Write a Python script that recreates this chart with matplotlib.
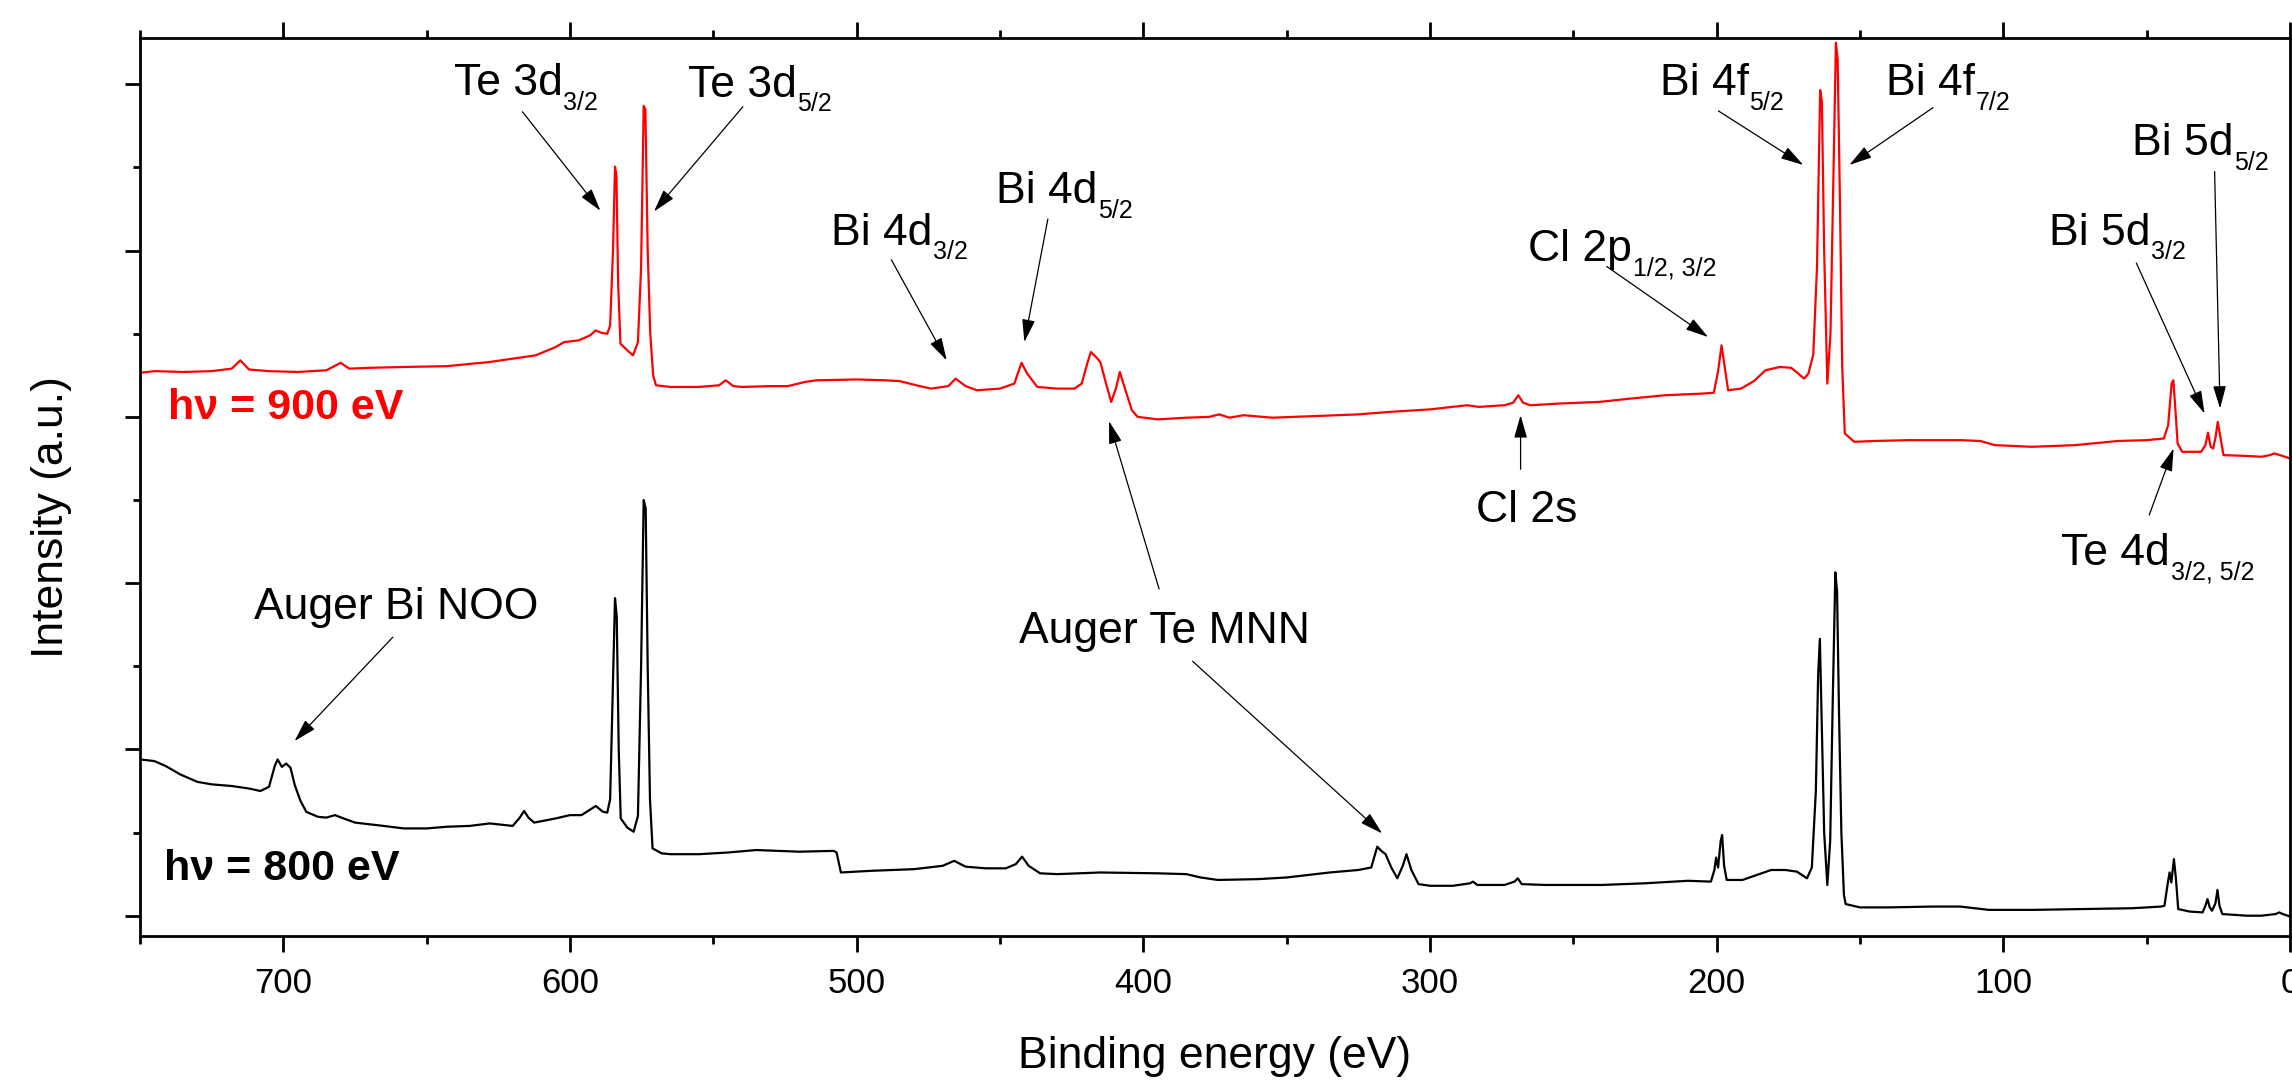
import matplotlib
matplotlib.use('Agg')
import matplotlib.pyplot as plt
from matplotlib.ticker import MultipleLocator

plt.rcParams['font.family'] = ['Liberation Sans', 'DejaVu Sans']

# ---------------- data (arbitrary units) ----------------
energy_900 = [750, 745, 735, 725, 718, 715, 712, 705, 695, 685, 680, 677, 670, 658, 643,
              628, 618, 612, 605, 602, 597, 593, 591, 589, 587, 586, 585.0, 584.3, 583.8,
              583.2, 582.4, 580, 578, 576.3, 575.2, 574.3, 573.7, 572.9, 572.0, 571, 570,
              565, 555, 548, 545.7, 543, 540, 530, 524, 518, 514, 500, 490, 485, 478, 474,
              468, 465.5, 462, 458, 450, 445, 442.5, 440.5, 437, 430, 424, 421.5, 419.5,
              418.3, 416.5, 415, 413, 411.2, 409.5, 408.2, 406.5, 404, 402, 395, 385, 377,
              373.5, 370, 365, 355, 340, 325, 314, 300, 287, 283, 274, 271, 269.2, 267.5,
              265, 255, 241, 230, 218, 205, 201, 199.5, 198.3, 197.2, 196, 191.5, 187, 183,
              178, 174, 171.5, 169.5, 168, 166.3, 165.0, 163.9, 163.3, 162.5, 161.4, 160.3,
              159.2, 158.4, 157.8, 157.0, 156.2, 155.3, 152, 145, 133, 115, 108, 103, 90,
              75, 60, 50, 44, 42.5, 41.3, 40.7, 40.0, 39.2, 37.6, 31, 29.5, 28.6, 27.7, 26.8,
              26, 25.2, 24.5, 23.2, 15, 10, 7, 5.5, 3.5, 0]
intensity_900 = [6.53, 6.55, 6.54, 6.55, 6.58, 6.68, 6.57, 6.55, 6.54, 6.56, 6.65, 6.58, 6.59,
                 6.60, 6.61, 6.66, 6.71, 6.74, 6.84, 6.90, 6.92, 6.98, 7.04, 7.01, 7.00, 7.10,
                 8.00, 9.01, 8.90, 7.60, 6.88, 6.80, 6.74, 6.90, 7.80, 9.74, 9.70, 8.00, 7.00,
                 6.50, 6.38, 6.36, 6.36, 6.38, 6.44, 6.37, 6.36, 6.37, 6.37, 6.42, 6.44, 6.45,
                 6.44, 6.43, 6.37, 6.34, 6.37, 6.46, 6.37, 6.32, 6.34, 6.40, 6.65, 6.52, 6.36,
                 6.34, 6.34, 6.40, 6.65, 6.78, 6.72, 6.66, 6.40, 6.18, 6.35, 6.54, 6.35, 6.08,
                 6.00, 5.97, 5.99, 6.00, 6.03, 5.99, 6.02, 5.99, 6.01, 6.03, 6.06, 6.09, 6.14,
                 6.12, 6.14, 6.17, 6.26, 6.17, 6.14, 6.16, 6.18, 6.22, 6.26, 6.28, 6.29, 6.55,
                 6.86, 6.60, 6.32, 6.34, 6.43, 6.56, 6.60, 6.59, 6.52, 6.46, 6.52, 6.75, 7.80,
                 9.93, 9.80, 8.00, 6.40, 7.00, 9.00, 10.50, 10.30, 8.60, 6.60, 5.80, 5.70, 5.71,
                 5.72, 5.72, 5.71, 5.66, 5.64, 5.66, 5.71, 5.72, 5.74, 5.90, 6.40, 6.44, 6.10,
                 5.68, 5.58, 5.58, 5.66, 5.81, 5.64, 5.62, 5.75, 5.94, 5.80, 5.54, 5.53, 5.52,
                 5.54, 5.56, 5.54, 5.50]

energy_800 = [750, 745, 741, 736, 730, 725, 718, 712, 708, 705, 703, 702, 700.5, 699, 697.5,
              696, 694, 692, 688, 685, 682, 679, 675, 665, 658, 650, 643, 635, 628, 620,
              617.5, 616, 614.5, 612.5, 605, 600, 596, 591, 588.5, 587, 586, 585.0, 584.3,
              583.7, 583.0, 582.3, 580, 577.8, 576.3, 575.2, 574.3, 573.6, 572.9, 572.1,
              571.2, 568, 565, 555, 545, 535, 520, 508, 507, 505.5, 495, 480, 470, 466, 462,
              455, 448, 444.5, 442.3, 440, 436, 430, 415, 395, 385, 380, 374, 360, 350, 335,
              325, 320.5, 319, 318.4, 317, 315.5, 313.5, 311.4, 309.5, 308.2, 306.5, 304, 300,
              292, 286, 285, 283.5, 274, 270.5, 269.4, 268, 260, 240, 225, 210, 202, 200.8,
              200.2, 199.5, 198.6, 198.1, 197.4, 196.5, 191, 186, 181, 176, 172, 168.5, 166.8,
              165.4, 164.6, 164.0, 163.4, 162.5, 161.4, 160.4, 159.5, 158.6, 158.0, 157.3,
              156.5, 155.6, 155, 150, 140, 125, 115, 105, 90, 72, 55, 45, 43.8, 42.6, 42.0,
              41.4, 40.5, 39.8, 39.0, 35, 30.5, 29.5, 28.8, 28, 27.2, 26, 25.3, 24.6, 23.6,
              15, 10, 5, 3.8, 2.5, 0]
intensity_800 = [1.88, 1.86, 1.80, 1.70, 1.61, 1.58, 1.56, 1.53, 1.50, 1.55, 1.80, 1.88, 1.79,
                 1.83, 1.78, 1.57, 1.38, 1.25, 1.19, 1.18, 1.21, 1.17, 1.12, 1.08, 1.05, 1.05,
                 1.07, 1.08, 1.11, 1.08, 1.18, 1.26, 1.18, 1.12, 1.17, 1.21, 1.21, 1.32, 1.25,
                 1.24, 1.40, 2.80, 3.82, 3.60, 2.00, 1.17, 1.06, 1.01, 1.20, 3.00, 5.00, 4.90,
                 3.00, 1.40, 0.81, 0.75, 0.74, 0.74, 0.76, 0.79, 0.77, 0.78, 0.76, 0.52, 0.54,
                 0.56, 0.60, 0.66, 0.59, 0.57, 0.57, 0.62, 0.71, 0.60, 0.51, 0.50, 0.52, 0.51,
                 0.50, 0.46, 0.43, 0.44, 0.46, 0.52, 0.55, 0.58, 0.76, 0.83, 0.78, 0.74, 0.58,
                 0.45, 0.60, 0.74, 0.55, 0.38, 0.36, 0.36, 0.39, 0.41, 0.37, 0.37, 0.41, 0.45,
                 0.38, 0.37, 0.37, 0.39, 0.42, 0.41, 0.55, 0.70, 0.58, 0.90, 0.97, 0.60, 0.43,
                 0.43, 0.49, 0.55, 0.55, 0.53, 0.45, 0.58, 1.50, 2.90, 3.33, 2.40, 1.00, 0.37,
                 0.90, 2.60, 4.13, 3.90, 2.40, 1.00, 0.25, 0.14, 0.10, 0.10, 0.11, 0.11, 0.07,
                 0.07, 0.08, 0.09, 0.11, 0.12, 0.40, 0.52, 0.40, 0.68, 0.45, 0.08, 0.05, 0.04,
                 0.12, 0.20, 0.10, 0.06, 0.15, 0.31, 0.12, 0.02, 0.00, 0.00, 0.02, 0.04, 0.02,
                 -0.01]

x_major_ticks = [0, 100, 200, 300, 400, 500, 600, 700]
x_tick_labels = ['0', '100', '200', '300', '400', '500', '600', '700']
series_labels = ['h\u03bd = 900 eV', 'h\u03bd = 800 eV']

# ---------------- figure ----------------
fig = plt.figure(figsize=(22.92, 10.81), dpi=100)
ax = fig.add_axes([140 / 2292, 145 / 1081, 2150 / 2292, 898 / 1081])

ax.plot(energy_900, intensity_900, color='#ff0000', lw=1.6)
ax.plot(energy_800, intensity_800, color='black', lw=1.6)

ax.set_xlim(750, 0)
ax.set_ylim(-0.244, 10.557)

ax.set_xticks(x_major_ticks)
ax.set_xticklabels(x_tick_labels)
ax.xaxis.set_minor_locator(MultipleLocator(50))
ax.yaxis.set_major_locator(MultipleLocator(2))
ax.yaxis.set_minor_locator(MultipleLocator(1))

for s in ax.spines.values():
    s.set_linewidth(2.0)
ax.tick_params(axis='x', which='both', direction='out', top=True, bottom=True,
               labeltop=False, width=2.0, labelsize=25, pad=11)
ax.tick_params(axis='x', which='major', length=11.5)
ax.tick_params(axis='x', which='minor', length=6)
ax.tick_params(axis='y', which='both', direction='out', left=True, right=False,
               labelleft=False, width=2.0)
ax.tick_params(axis='y', which='major', length=11)
ax.tick_params(axis='y', which='minor', length=5)

ax.set_xlabel('Binding energy (eV)', fontsize=32)
ax.xaxis.set_label_coords(0.5, -0.111)
ax.set_ylabel('Intensity (a.u.)', fontsize=32)
ax.yaxis.set_label_coords(-0.0314, 0.466)

# series labels
ax.text(740.4, 5.98, series_labels[0], color='#ff0000', fontsize=31, fontweight='bold',
        ha='left', va='baseline')
ax.text(741.5, 0.43, series_labels[1], color='black', fontsize=31, fontweight='bold',
        ha='left', va='baseline')

ARROW = dict(arrowstyle='-|>,head_length=14,head_width=4', mutation_scale=1,
             color='black', lw=0.9, shrinkA=0, shrinkB=0)


def peak_label(x, y, main, sub=None):
    t = ax.text(x, y, main, fontsize=32, ha='left', va='baseline')
    if sub:
        ax.annotate(sub, xy=(1, 0), xycoords=t, xytext=(0.5, -4),
                    textcoords='offset points', fontsize=18, ha='left', va='baseline')
    return t


def arrow(tail, tip):
    ax.annotate('', xy=tip, xytext=tail, arrowprops=ARROW)


peak_label(640.5, 9.87, 'Te 3d', '3/2')
arrow((616.6, 9.67), (589.4, 8.48))
peak_label(559.0, 9.85, 'Te 3d', '5/2')
arrow((539.7, 9.73), (570.7, 8.47))
peak_label(509.0, 8.07, 'Bi 4d', '3/2')
arrow((487.9, 7.89), (468.6, 6.68))
peak_label(451.5, 8.57, 'Bi 4d', '5/2')
arrow((433.3, 8.38), (441.5, 6.90))
peak_label(265.8, 7.87, 'Cl 2p', '1/2, 3/2')
arrow((238.4, 7.81), (203.0, 6.96))
peak_label(284.0, 4.74, 'Cl 2s')
arrow((268.4, 5.37), (268.4, 6.02))
peak_label(219.9, 9.87, 'Bi 4f', '5/2')
arrow((199.4, 9.68), (169.8, 9.03))
peak_label(140.9, 9.87, 'Bi 4f', '7/2')
arrow((124.5, 9.72), (153.7, 9.03))
peak_label(55.2, 9.15, 'Bi 5d', '5/2')
arrow((26.3, 8.95), (24.4, 6.10))
peak_label(84.0, 8.07, 'Bi 5d', '3/2')
arrow((53.6, 7.85), (29.8, 6.04))
peak_label(79.8, 4.22, 'Te 4d', '3/2, 5/2')
arrow((49.1, 4.82), (40.6, 5.62))
peak_label(710.1, 3.57, 'Auger Bi NOO')
arrow((661.8, 3.35), (696.1, 2.10))
peak_label(443.4, 3.28, 'Auger Te MNN')
arrow((382.8, 3.06), (316.7, 0.99))
arrow((394.5, 3.93), (412.0, 5.95))

fig.savefig('out.png', dpi=100)
